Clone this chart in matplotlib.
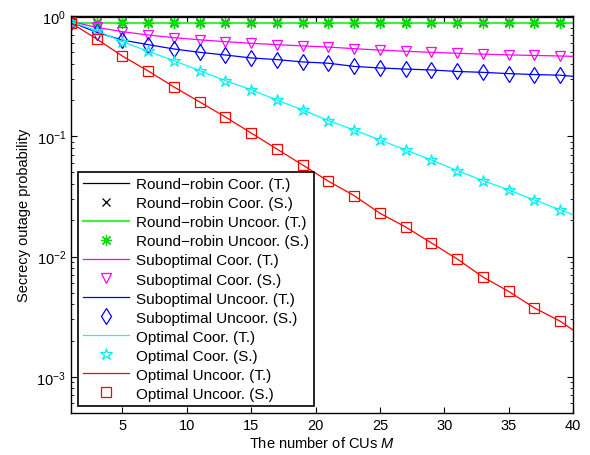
import numpy as np
import matplotlib
matplotlib.use('Agg')
import matplotlib.pyplot as plt

plt.rcParams['font.family'] = ['Liberation Sans', 'DejaVu Sans']
plt.rcParams['mathtext.fontset'] = 'custom'
plt.rcParams['mathtext.rm'] = 'Liberation Sans'
plt.rcParams['mathtext.it'] = 'Liberation Sans:italic'

# number of CUs: theory curves and simulation points
M_theory = [1, 3, 5, 7, 9, 11, 13, 15, 17, 19, 21, 23, 25, 27, 29, 31, 33, 35, 37, 39, 40]
M_sim = [1, 3, 5, 7, 9, 11, 13, 15, 17, 19, 21, 23, 25, 27, 29, 31, 33, 35, 37, 39]

# round-robin
rr_coor_theory = [0.985] * 21
rr_coor_sim = [0.885] * 20
rr_uncoor_theory = [0.88] * 21
rr_uncoor_sim = [0.88] * 20

# suboptimal
sub_coor = [0.90, 0.805, 0.741, 0.695, 0.661, 0.634, 0.612, 0.593, 0.578, 0.564, 0.552,
            0.535, 0.521, 0.509, 0.499, 0.490, 0.482, 0.475, 0.470, 0.465, 0.462]
sub_uncoor = [0.89, 0.731, 0.631, 0.578, 0.532, 0.499, 0.474, 0.448, 0.434, 0.415, 0.405,
              0.381, 0.370, 0.362, 0.356, 0.346, 0.340, 0.332, 0.326, 0.322, 0.315]

# optimal
opt_coor = [0.895, 0.755, 0.612, 0.509, 0.425, 0.351, 0.290, 0.244, 0.200, 0.1656, 0.1349,
            0.1127, 0.0933, 0.0769, 0.0635, 0.0518, 0.0428, 0.0358, 0.0295, 0.0245, 0.0223]
opt_uncoor = [0.875, 0.644, 0.464, 0.349, 0.257, 0.193, 0.1445, 0.1064, 0.0783, 0.0577, 0.0423,
              0.0321, 0.0229, 0.0176, 0.01297, 0.00955, 0.00676, 0.00513, 0.00374, 0.0029, 0.00245]

fig = plt.figure(figsize=(5.9, 4.56), dpi=100)
ax = fig.add_axes([0.1203, 0.0921, 0.8509, 0.8706])

lw = 0.9
asterisk = (8, 2, 0)
ax.semilogy(M_theory, rr_coor_theory, '-', color='k', lw=lw, label='Round\u2212robin Coor. (T.)')
ax.semilogy(M_sim, rr_coor_sim, 'x', color='k', ms=5.5, mew=0.9, ls='none', label='Round\u2212robin Coor. (S.)')
ax.semilogy(M_theory, rr_uncoor_theory, '-', color='#44ee44', lw=1.6, label='Round\u2212robin Uncoor. (T.)')
ax.semilogy(M_sim, rr_uncoor_sim, marker=asterisk, color='#00dd00', ms=8, mew=0.9, ls='none', label='Round\u2212robin Uncoor. (S.)')
ax.semilogy(M_theory, sub_coor, '-', color='#ff00ff', lw=lw, label='Suboptimal Coor. (T.)')
ax.semilogy(M_sim, sub_coor[:-1], 'v', color='#ff00ff', mfc='none', ms=7.5, mew=0.9, ls='none', label='Suboptimal Coor. (S.)')
ax.semilogy(M_theory, sub_uncoor, '-', color='#0000ff', lw=lw, label='Suboptimal Uncoor. (T.)')
ax.semilogy(M_sim, sub_uncoor[:-1], 'd', color='#0000ff', mfc='none', ms=8.5, mew=0.9, ls='none', label='Suboptimal Uncoor. (S.)')
ax.semilogy(M_theory, opt_coor, '-', color='#00ffff', lw=lw, label='Optimal Coor. (T.)')
ax.semilogy(M_sim, opt_coor[:-1], '*', color='#00eeee', mfc='none', ms=9, mew=0.9, ls='none', label='Optimal Coor. (S.)')
ax.semilogy(M_theory, opt_uncoor, '-', color='#ff0000', lw=lw, label='Optimal Uncoor. (T.)')
ax.semilogy(M_sim, opt_uncoor[:-1], 's', color='#ff0000', mfc='none', ms=6.5, mew=0.9, ls='none', label='Optimal Uncoor. (S.)')

ax.set_xlim(1, 40)
ax.set_ylim(5e-4, 1)
ax.set_xticks([5, 10, 15, 20, 25, 30, 35, 40])
ax.tick_params(which='both', direction='in', top=True, right=True, labelsize=10.5)
ax.tick_params(which='major', length=4)
ax.tick_params(which='minor', length=2)
for s in ax.spines.values():
    s.set_linewidth(1.0)

ax.set_xlabel('The number of CUs $M$', fontsize=10.5, labelpad=2)
ax.set_ylabel('Secrecy outage probability', fontsize=10.5, labelpad=4)

leg = ax.legend(loc='lower left', fontsize=11, handlelength=3.0, handletextpad=0.45,
                labelspacing=0.33, borderaxespad=0.45, borderpad=0.35, fancybox=False,
                framealpha=1, edgecolor='k')
leg.get_frame().set_linewidth(1.2)

fig.savefig('out.png', dpi=100)
